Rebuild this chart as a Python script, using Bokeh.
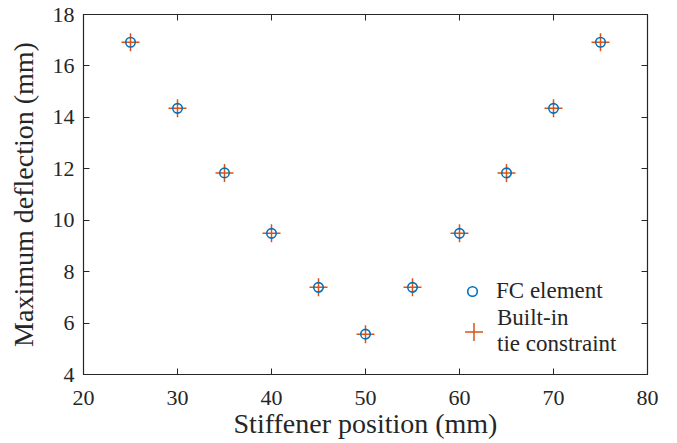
from bokeh.plotting import figure
from bokeh.models import LinearAxis, Range1d, Legend, LegendItem, FixedTicker
from bokeh.embed import file_html
from bokeh.resources import INLINE

positions = [25, 30, 35, 40, 45, 50, 55, 60, 65, 70, 75]
fc_element = [16.92, 14.35, 11.84, 9.49, 7.39, 5.57, 7.39, 9.49, 11.84, 14.35, 16.92]
builtin_tie = [16.92, 14.35, 11.84, 9.49, 7.39, 5.57, 7.39, 9.49, 11.84, 14.35, 16.92]
x_ticks = [20, 30, 40, 50, 60, 70, 80]
y_ticks = [4, 6, 8, 10, 12, 14, 16, 18]

FONT = "Liberation Serif"
AX = "#262626"

p = figure(frame_width=564, frame_height=360,
           x_range=Range1d(20, 80), y_range=Range1d(4, 18),
           output_backend="svg", toolbar_location=None,
           min_border_left=83, min_border_top=14, min_border_right=28, min_border_bottom=66,
           background_fill_color="white", border_fill_color="white")
p.xgrid.visible = False
p.ygrid.visible = False
p.outline_line_color = AX
p.outline_line_width = 1.2

p.xaxis.ticker = FixedTicker(ticks=x_ticks)
p.yaxis.ticker = FixedTicker(ticks=y_ticks)
p.xaxis.axis_label = "Stiffener position (mm)"
p.yaxis.axis_label = "Maximum deflection (mm)"

for ax in [p.xaxis[0], p.yaxis[0]]:
    ax.axis_line_color = AX
    ax.major_tick_line_color = AX
    ax.major_tick_in = 6
    ax.major_tick_out = 0
    ax.minor_tick_line_color = None
    ax.major_label_text_font = FONT
    ax.major_label_text_font_size = "22px"
    ax.major_label_text_color = AX
    ax.axis_label_text_font = FONT
    ax.axis_label_text_font_size = "28px"
    ax.axis_label_text_font_style = "normal"
    ax.axis_label_text_color = AX
p.xaxis[0].major_label_standoff = 16
p.xaxis[0].axis_label_standoff = 0
p.yaxis[0].major_label_standoff = 9
p.yaxis[0].axis_label_standoff = 11

top = LinearAxis(ticker=FixedTicker(ticks=x_ticks))
right = LinearAxis(ticker=FixedTicker(ticks=y_ticks))
for ax in [top, right]:
    ax.axis_line_color = AX
    ax.major_tick_line_color = AX
    ax.major_tick_in = 6
    ax.major_tick_out = 0
    ax.minor_tick_line_color = None
    ax.major_label_text_font_size = "8px"
    ax.major_label_text_color = None
    ax.major_label_standoff = 0
p.add_layout(top, "above")
p.add_layout(right, "right")

r_tie = p.scatter(positions, builtin_tie, marker="cross", size=18,
                  line_color="#D95319", line_width=1.5)
r_fc = p.scatter(positions, fc_element, marker="circle", size=9.5,
                 fill_color=None, line_color="#0072BD", line_width=1.6)

legend_fc = Legend(items=[LegendItem(label="FC element", renderers=[r_fc])],
                   location=(377, 70), padding=0, margin=0, spacing=0,
                   label_text_font=FONT, label_text_font_size="23px",
                   label_text_color=AX, label_standoff=12,
                   glyph_width=24, glyph_height=24,
                   border_line_color=None, background_fill_alpha=0)
legend_tie = Legend(items=[LegendItem(label="Built-in\ntie constraint", renderers=[r_tie])],
                    location=(368, 17), padding=0, margin=0, spacing=0,
                    label_text_font=FONT, label_text_font_size="23px",
                    label_text_line_height=1.1,
                    label_text_color=AX, label_standoff=1,
                    glyph_width=45, glyph_height=45,
                    border_line_color=None, background_fill_alpha=0)
p.add_layout(legend_fc)
p.add_layout(legend_tie)

open("out.html", "w").write(file_html(p, INLINE))
